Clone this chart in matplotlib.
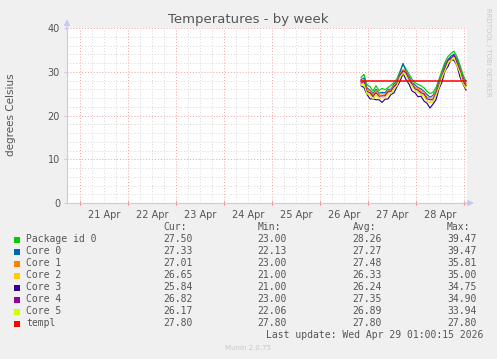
import matplotlib
matplotlib.use("Agg")
import matplotlib.pyplot as plt
import numpy as np

# ---------------- data ----------------
title = "Temperatures - by week"
ylabel = "degrees Celsius"
day_labels = ["21 Apr", "22 Apr", "23 Apr", "24 Apr", "25 Apr", "26 Apr", "27 Apr", "28 Apr"]
yticks = [0, 10, 20, 30, 40]

# hours since 21 Apr 00:00, samples every 1.5 h starting 26 Apr 20:30
start_hour = 140.5
step_hours = 1.5

package_id0 = [28.7, 29.4, 27.0, 26.6, 25.6, 26.8, 25.7, 26.2, 25.9, 26.4, 26.9, 27.6, 28.4, 30.1, 31.8, 30.6, 29.5, 28.3, 27.5, 27.1, 26.8, 26.3, 25.5, 25.0, 25.3, 26.4, 28.3, 30.3, 32.2, 33.5, 34.2, 34.7, 33.4, 31.5, 29.3, 27.8]
core0 = [28.2, 28.6, 26.3, 25.8, 25.0, 26.0, 25.1, 25.3, 25.2, 26.0, 26.0, 27.2, 27.7, 29.8, 31.9, 30.1, 28.9, 27.6, 27.0, 26.4, 26.1, 25.5, 24.8, 24.2, 24.6, 25.7, 27.7, 29.6, 31.6, 32.8, 33.6, 34.0, 32.8, 30.8, 28.7, 27.3]
core1 = [27.8, 28.2, 25.9, 25.6, 24.6, 25.7, 24.8, 25.0, 24.8, 25.7, 25.8, 26.9, 27.4, 29.4, 30.5, 30.0, 28.4, 27.5, 26.4, 26.2, 25.6, 25.3, 24.2, 24.0, 24.0, 25.5, 27.1, 29.4, 31.0, 32.6, 33.0, 33.7, 32.2, 30.6, 28.1, 27.0]
core2 = [27.0, 27.4, 25.1, 24.8, 23.9, 24.7, 24.0, 24.1, 24.1, 24.9, 25.0, 26.2, 26.8, 28.8, 29.8, 29.4, 27.8, 26.8, 25.7, 25.4, 24.8, 24.5, 23.3, 23.0, 23.1, 24.7, 26.4, 28.7, 30.4, 32.0, 32.4, 33.2, 31.6, 30.0, 27.5, 26.6]
core3 = [26.8, 26.4, 24.8, 23.8, 23.8, 23.6, 23.6, 23.0, 23.7, 23.8, 24.8, 25.2, 26.6, 27.8, 29.6, 28.2, 27.2, 25.6, 25.2, 24.3, 24.4, 23.3, 22.8, 21.7, 22.6, 23.6, 26.1, 27.7, 30.2, 31.2, 32.8, 32.6, 31.4, 28.8, 27.2, 25.8]
core4 = [27.4, 27.8, 25.5, 25.2, 24.3, 25.2, 24.4, 24.5, 24.5, 25.4, 25.5, 26.6, 27.2, 29.2, 30.2, 29.8, 28.1, 27.2, 26.1, 25.8, 25.2, 24.9, 23.8, 23.6, 23.6, 25.1, 26.8, 29.1, 30.8, 32.6, 33.2, 33.8, 32.0, 30.3, 27.8, 26.8]
core5 = [26.9, 27.2, 24.9, 24.7, 23.8, 24.8, 24.0, 24.1, 24.1, 24.9, 25.0, 26.2, 26.8, 28.8, 29.6, 29.2, 27.7, 26.8, 25.6, 25.3, 24.7, 24.4, 23.2, 23.1, 23.2, 24.7, 26.4, 28.8, 30.3, 32.0, 32.6, 33.2, 31.4, 29.8, 27.3, 26.2]
templ = [27.8] * 36

series_names = ["Package id 0", "Core 0", "Core 1", "Core 2", "Core 3", "Core 4", "Core 5", "templ"]
series_values = [package_id0, core0, core1, core2, core3, core4, core5, templ]
series_colors = ["#00CC00", "#0066B3", "#FF8000", "#FFCC00", "#330099", "#990099", "#CCFF00", "#FF0000"]

cur = ["27.50", "27.33", "27.01", "26.65", "25.84", "26.82", "26.17", "27.80"]
mins = ["23.00", "22.13", "23.00", "21.00", "21.00", "23.00", "22.06", "27.80"]
avgs = ["28.26", "27.27", "27.48", "26.33", "26.24", "27.35", "26.89", "27.80"]
maxs = ["39.47", "39.47", "35.81", "35.00", "34.75", "34.90", "33.94", "27.80"]

last_update = "Last update: Wed Apr 29 01:00:15 2026"

# ---------------- figure ----------------
W, H = 497, 359
fig = plt.figure(figsize=(W / 100, H / 100), dpi=100, facecolor="#F0F0F0")

L, R, T, B = 67, 467, 28, 203
ax = fig.add_axes([L / W, 1 - B / H, (R - L) / W, (B - T) / H], facecolor="white")

xmin, xmax = -6.5, 193.5
ax.set_xlim(xmin, xmax)
ax.set_ylim(0, 40)

# grid
for h in np.arange(0, xmax, 6):
    major = (h % 24 == 0)
    ax.axvline(h, color="#F0A0A0" if major else "#D8D8D8", lw=0.7,
               linestyle=(0, (1, 2)), zorder=1)
for v in np.arange(2, 40.1, 2):
    major = (v % 10 == 0)
    ax.axhline(v, color="#F0A0A0" if major else "#D8D8D8", lw=0.7,
               linestyle=(0, (1, 2)), zorder=1)

times = [start_hour + step_hours * i for i in range(len(package_id0))]
for name, vals, col in zip(series_names, series_values, series_colors):
    ax.plot(times, vals, color=col, lw=1.1 if name == "templ" else 0.85, zorder=3)

# axes styling
for s in ["top", "right"]:
    ax.spines[s].set_visible(False)
for s in ["left", "bottom"]:
    ax.spines[s].set_color("#C8C8F0")
    ax.spines[s].set_linewidth(0.8)

ax.set_yticks(yticks)
ax.set_yticklabels([str(v) for v in yticks])
ax.set_xticks([24 * k for k in range(9)])
ax.set_xticklabels([])
ax.set_xticks([12 + 24 * k for k in range(8)], minor=True)
ax.set_xticklabels(day_labels, minor=True)
ax.tick_params(axis="x", which="major", length=2.5, color="#F08080", width=0.8, direction="inout")
ax.tick_params(axis="x", which="minor", length=0, labelsize=7, labelcolor="#555555", pad=5)
ax.tick_params(axis="y", length=2, color="#C8C8F0", labelsize=7, labelcolor="#555555", pad=3)

# arrows
ax.annotate("", xy=(xmin, 42.0), xytext=(xmin, 39.5), xycoords="data",
            arrowprops=dict(arrowstyle="-|>", color="#C8C8F0", lw=0.8, mutation_scale=9,
                            shrinkA=0, shrinkB=0),
            annotation_clip=False)
ax.annotate("", xy=(197.0, 0), xytext=(192, 0), xycoords="data",
            arrowprops=dict(arrowstyle="-|>", color="#C8C8F0", lw=0.8, mutation_scale=9,
                            shrinkA=0, shrinkB=0),
            annotation_clip=False)

def fx(px):
    return px / W

def fy(py):
    return 1 - py / H

fig.text(fx(248), fy(19), title, ha="center", va="center", fontsize=9.5, color="#555555")
fig.text(fx(11), fy(115), ylabel, ha="center", va="center", rotation=90, fontsize=7.5, color="#555555")
fig.text(fx(488), fy(8), "RRDTOOL / TOBI OETIKER", ha="center", va="top", rotation=270,
         fontsize=5, color="#C8C8C8")

mono = "DejaVu Sans Mono"
fs = 7
tc = "#555555"
col_x = [163, 257.5, 352.5, 447]
for x, hdr in zip(col_x, ["Cur:", "Min:", "Avg:", "Max:"]):
    fig.text(fx(x), fy(227.5), hdr, ha="left", va="center", family=mono, fontsize=fs, color=tc)

for i, name in enumerate(series_names):
    y = 239.5 + 12 * i
    fig.patches.append(plt.Rectangle((fx(14), fy(y + 3)), 6 / W, 6 / H, transform=fig.transFigure,
                                     facecolor=series_colors[i], edgecolor="none", figure=fig))
    fig.text(fx(26.5), fy(y), name, ha="left", va="center", family=mono, fontsize=fs, color=tc)
    for x, v in zip(col_x, [cur[i], mins[i], avgs[i], maxs[i]]):
        fig.text(fx(x), fy(y), v, ha="left", va="center", family=mono, fontsize=fs, color=tc)

fig.text(fx(483), fy(335.5), last_update, ha="right", va="center", family=mono, fontsize=fs, color=tc)
fig.text(fx(248), fy(348), "Munin 2.0.75", ha="center", va="center", fontsize=5, color="#C8C8C8")

fig.savefig("out.png", dpi=100, facecolor=fig.get_facecolor())
